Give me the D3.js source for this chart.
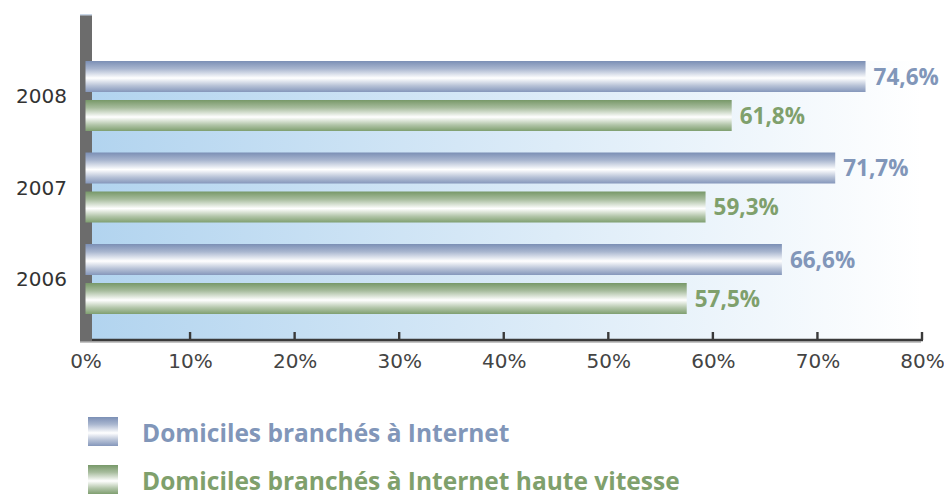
<!DOCTYPE html>
<html><head><meta charset="utf-8">
<script src="https://cdn.jsdelivr.net/npm/d3@7"></script>
<style>html,body{margin:0;padding:0;background:#fff;}svg{display:block;}</style>
</head><body>
<svg id="c" width="944" height="498"></svg>
<script>
const years = ["2008", "2007", "2006"];
const seriesNames = ["Domiciles branchés à Internet", "Domiciles branchés à Internet haute vitesse"];
const internet = [74.6, 71.7, 66.6];
const hauteVitesse = [61.8, 59.3, 57.5];
const ticks = [0, 10, 20, 30, 40, 50, 60, 70, 80];
const fmt = v => v.toFixed(1).replace(".", ",") + "%";

const svg = d3.select("#c");
const defs = svg.append("defs");
function vgrad(id, top, bottom) {
  const g = defs.append("linearGradient").attr("id", id).attr("x1", 0).attr("y1", 0).attr("x2", 0).attr("y2", 1);
  g.append("stop").attr("offset", "0%").attr("stop-color", top);
  g.append("stop").attr("offset", "25%").attr("stop-color", d3.interpolateRgb(top, "#ffffff")(0.35));
  g.append("stop").attr("offset", "55%").attr("stop-color", "#ffffff");
  g.append("stop").attr("offset", "80%").attr("stop-color", d3.interpolateRgb(bottom, "#ffffff")(0.4));
  g.append("stop").attr("offset", "100%").attr("stop-color", bottom);
}
vgrad("gBlue", "#7b8fb5", "#8597bb");
vgrad("gGreen", "#779868", "#7f9f70");
const bg = defs.append("linearGradient").attr("id", "gBg").attr("x1", 0).attr("y1", 0).attr("x2", 1).attr("y2", 0);
bg.append("stop").attr("offset", "0%").attr("stop-color", "#b2d4ef");
bg.append("stop").attr("offset", "100%").attr("stop-color", "#ffffff");

const x = d3.scaleLinear().domain([0, 80]).range([85.5, 922]);
const y = d3.scaleBand().domain(years).range([61, 314]).paddingInner(21.5 / 91.5).paddingOuter(0);
const ySub = d3.scaleBand().domain(["internet", "hv"]).range([0, y.bandwidth()]).paddingInner(8 / 39).paddingOuter(0);

const axisY = 340;
svg.append("rect").attr("x", 92).attr("y", y(years[0])).attr("width", 830).attr("height", axisY - y(years[0]))
  .attr("fill", "url(#gBg)");
svg.append("rect").attr("x", 80).attr("y", 14).attr("width", 12).attr("height", axisY - 14 + 2).attr("fill", "#6c6c6c");
svg.append("rect").attr("x", 80).attr("y", 14).attr("width", 12).attr("height", 1.5).attr("fill", "#c9d6e6");

svg.append("line").attr("x1", 80).attr("x2", 921).attr("y1", axisY + 2).attr("y2", axisY + 2).attr("stroke", "#b0b0b0").attr("stroke-width", 1.5);
const axis = d3.axisBottom(x).tickValues(ticks).tickSize(0).tickFormat(d => d + "%");
const ag = svg.append("g").attr("transform", `translate(0,${axisY})`).call(axis);
ag.select(".domain").remove();
ag.selectAll("text").attr("font-family", "DejaVu Sans").attr("font-size", 20).attr("fill", "#444").attr("dy", 0).attr("y", 28);
svg.append("line").attr("x1", 92).attr("x2", x(80) + 1).attr("y1", axisY).attr("y2", axisY).attr("stroke", "#3a3a3a").attr("stroke-width", 2.4);
svg.selectAll(".tk").data(ticks.filter(t => t > 0)).join("line").attr("class", "tk")
  .attr("x1", d => x(d)).attr("x2", d => x(d)).attr("y1", axisY - 8).attr("y2", axisY)
  .attr("stroke", "#3a3a3a").attr("stroke-width", 2.4);

const rows = years.map((yr, i) => ({ yr, internet: internet[i], hv: hauteVitesse[i] }));
const keys = [
  { key: "internet", fill: "url(#gBlue)", color: "#8196b9" },
  { key: "hv", fill: "url(#gGreen)", color: "#7fa06c" }
];
keys.forEach(k => {
  svg.selectAll(".bar-" + k.key).data(rows).join("rect").attr("class", "bar-" + k.key)
    .attr("x", x(0)).attr("y", d => y(d.yr) + ySub(k.key))
    .attr("width", d => x(d[k.key]) - x(0)).attr("height", ySub.bandwidth())
    .attr("fill", k.fill);
  svg.selectAll(".lbl-" + k.key).data(rows).join("text").attr("class", "lbl-" + k.key)
    .attr("x", d => x(d[k.key]) + 8).attr("y", d => y(d.yr) + ySub(k.key) + ySub.bandwidth() / 2)
    .attr("dy", "0.36em").attr("font-family", "Open Sans").attr("font-weight", "bold").attr("font-size", 22.5)
    .attr("fill", k.color).text(d => fmt(d[k.key]));
});

svg.selectAll(".cat").data(years).join("text").attr("class", "cat")
  .attr("x", 67).attr("y", d => y(d) + y.bandwidth() / 2).attr("dy", "0.36em").attr("text-anchor", "end")
  .attr("font-family", "DejaVu Sans").attr("font-size", 20).attr("fill", "#333").text(d => d);

const leg = svg.selectAll(".leg").data(keys).join("g").attr("class", "leg")
  .attr("transform", (d, i) => `translate(88,${417 + i * 48})`);
leg.append("rect").attr("width", 30).attr("height", 29).attr("fill", d => d.fill);
leg.append("text").attr("x", 54).attr("y", 25).attr("font-family", "Open Sans").attr("font-weight", "bold")
  .attr("font-size", 24.5).attr("fill", d => d.color).text((d, i) => seriesNames[i]);
</script>
</body></html>
